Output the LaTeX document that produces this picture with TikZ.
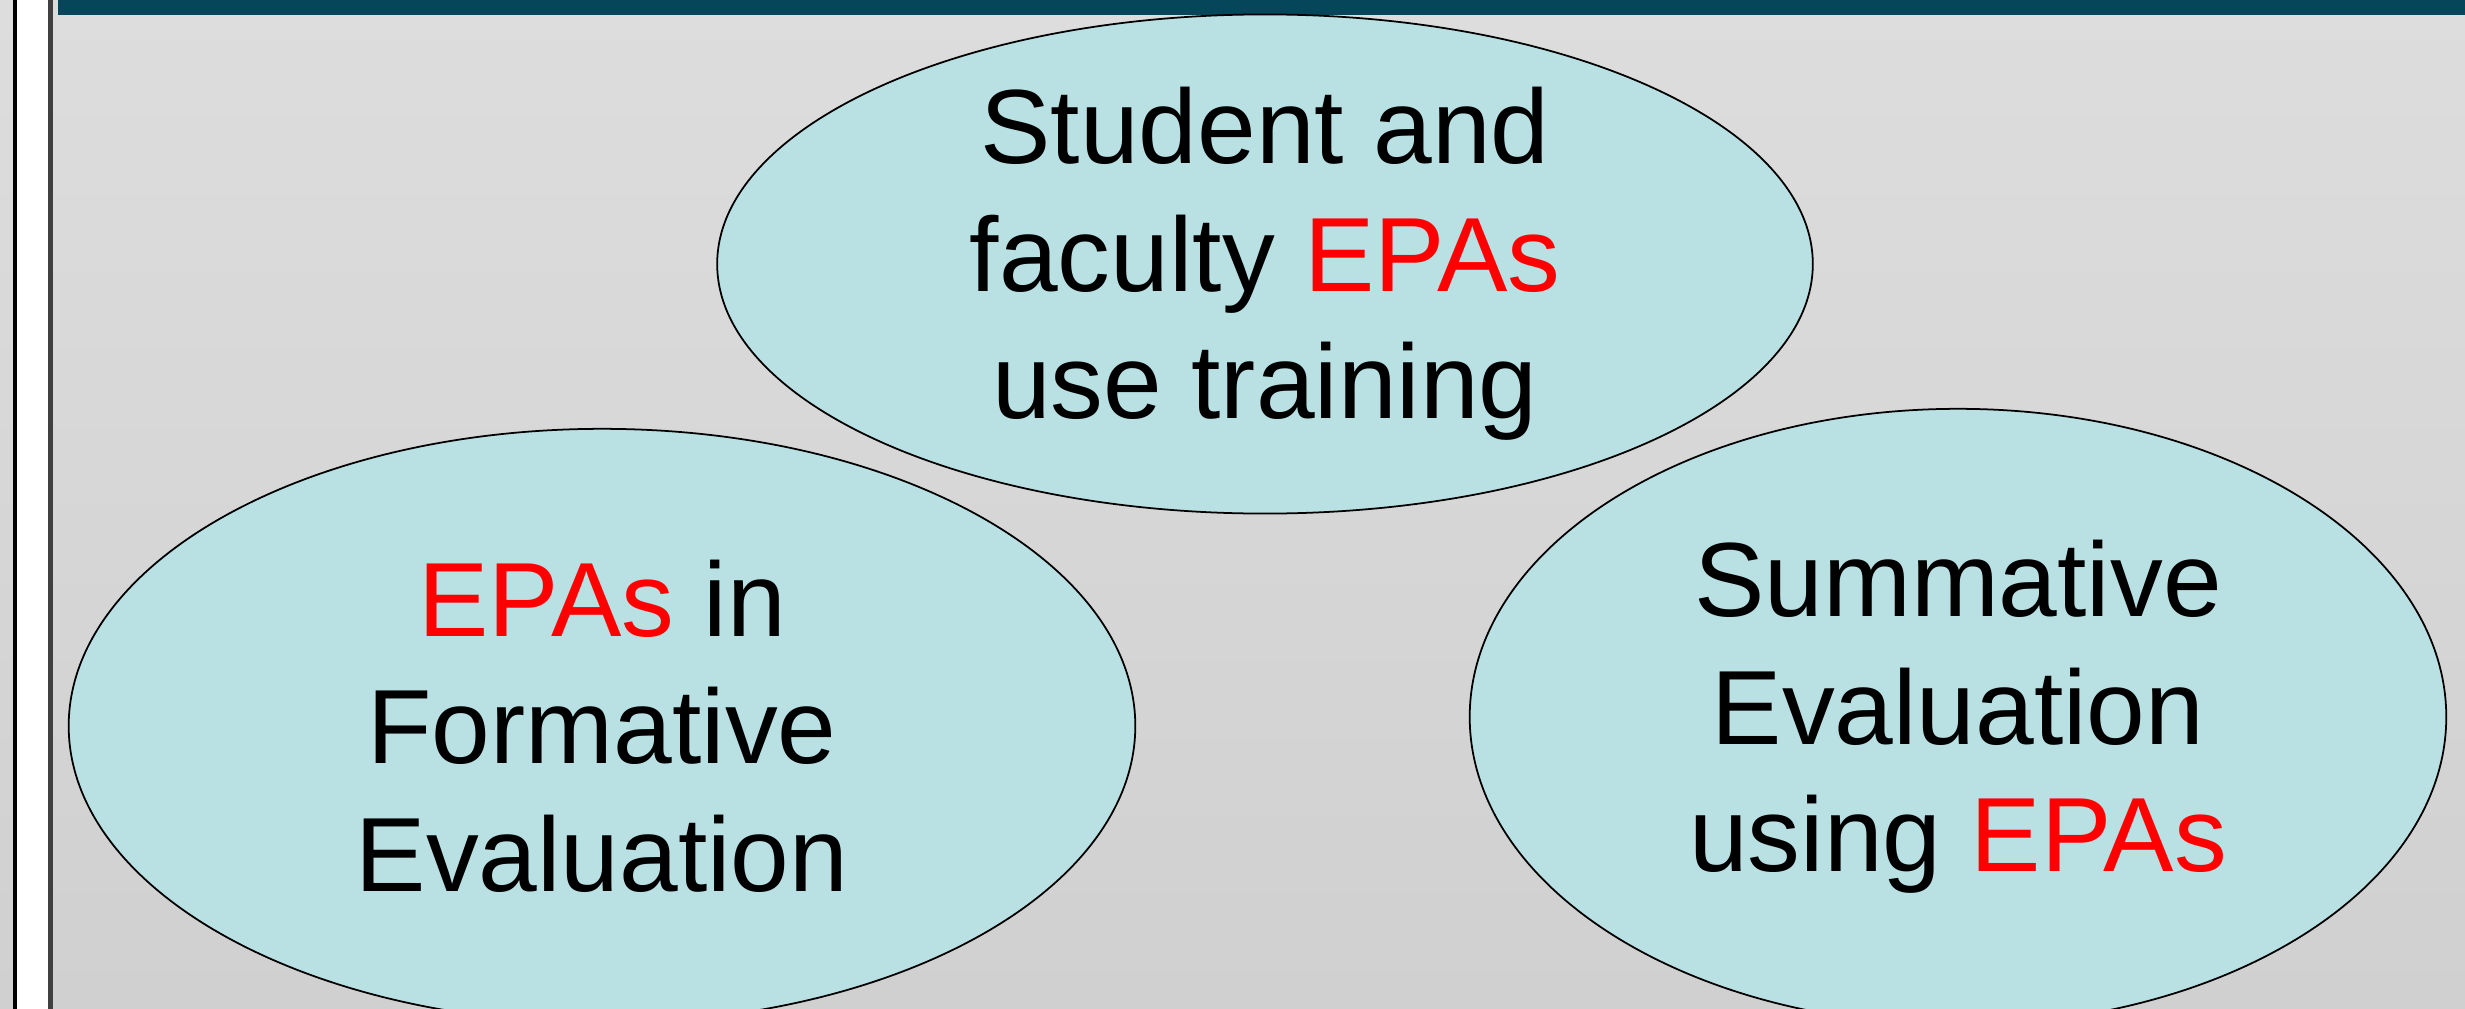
\documentclass[tikz,border=0pt]{standalone}
\usepackage{fontspec}
\setmainfont{Liberation Sans}
\usepackage{xcolor}
\usepackage{tikz}
\usetikzlibrary{shapes.geometric, positioning}
\definecolor{barteal}{HTML}{05465A}
\definecolor{bubblefill}{HTML}{B9E0E3}
\definecolor{bgtop}{HTML}{DDDDDD}
\definecolor{bgbottom}{HTML}{D0D0D0}
\definecolor{epared}{HTML}{FF0000}
\newcommand{\epa}[1]{\textcolor{epared}{#1}}
\tikzset{
    bubble/.style = {ellipse, draw=black, line width=0.5pt, fill=bubblefill,
        inner sep=0pt, align=center, font=\fontsize{30}{36.2}\selectfont},
}

\begin{document}
\begin{tikzpicture}[x=0.01cm, y=-0.01cm]
            \useasboundingbox (0,0) rectangle (2465,1009);
            \clip (0,0) rectangle (2465,1009);
            % slide background
            \shade[top color=bgtop, bottom color=bgbottom] (0,0) rectangle (2465,1009);
            \fill[white] (16,0) rectangle (49,1009);
            \draw[line width=1.3pt] (15,0) -- (15,1009);
            \draw[line width=1.5pt, black!75] (50.5,0) -- (50.5,1009);
            \fill[barteal] (58,0) rectangle (2465,15);
            % the three ellipses
            \node (training) [bubble, minimum width=10.95cm, minimum height=4.96cm] at (1265,264)
                {Student and\\faculty \epa{EPAs}\\use training};
            \node (formative) [bubble, minimum width=10.66cm, minimum height=5.94cm] at (602,726)
                {\epa{EPAs} in\\Formative\\Evaluation};
            \node (summative) [bubble, minimum width=9.76cm, minimum height=6.16cm] at (1958,717)
                {Summative\\Evaluation\\using \epa{EPAs}};
\end{tikzpicture}
\end{document}
